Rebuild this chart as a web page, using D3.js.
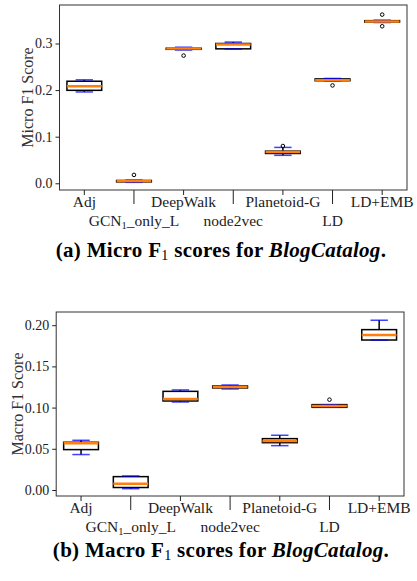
<!DOCTYPE html>
<html>
<head>
<meta charset="utf-8">
<script src="https://cdn.jsdelivr.net/npm/d3@7/dist/d3.min.js"></script>
<style>
  body { margin: 0; background: #fff; }
  svg { display: block; }
  .tick text { font-family: "Liberation Serif", serif; fill: #222; }
</style>
</head>
<body>
<script>
var methods = ["Adj", "GCN1_only_L", "DeepWalk", "node2vec", "Planetoid-G", "LD", "LD+EMB"];

// micro F1 (BlogCatalog)
var microLo     = [0.196, 0.002, 0.286, 0.288, 0.060, 0.219, 0.345];
var microQ1     = [0.1995, 0.003, 0.2875, 0.2885, 0.064, 0.220, 0.346];
var microMed    = [0.2085, 0.005, 0.289, 0.298, 0.067, 0.221, 0.347];
var microQ3     = [0.219, 0.006, 0.290, 0.300, 0.069, 0.224, 0.349];
var microHi     = [0.222, 0.007, 0.292, 0.303, 0.077, 0.225, 0.350];
var microFliers = [[], [0.018], [0.274], [], [0.080], [0.210], [0.362, 0.337]];
var microTicks  = [0.0, 0.1, 0.2, 0.3];

// macro F1 (BlogCatalog)
var macroLo     = [0.043, 0.0016, 0.1068, 0.1226, 0.0538, 0.1005, 0.182];
var macroQ1     = [0.049, 0.003, 0.108, 0.1238, 0.0574, 0.1003, 0.182];
var macroMed    = [0.0566, 0.0077, 0.1104, 0.125, 0.0595, 0.102, 0.1881];
var macroQ3     = [0.0579, 0.0162, 0.1197, 0.1262, 0.0623, 0.1036, 0.1946];
var macroHi     = [0.0603, 0.017, 0.1214, 0.1274, 0.0664, 0.1035, 0.206];
var macroFliers = [[], [], [], [], [], [0.1096], []];
var macroTicks  = [0.00, 0.05, 0.10, 0.15, 0.20];

var svg = d3.select("body").append("svg").attr("width", 417).attr("height", 581);

function makePanel(p) {
  var x = d3.scaleLinear().domain([0.5, 7.5]).range([p.left, p.right]);
  var y = d3.scaleLinear().domain(p.ydom).range([p.bottom, p.top]);
  var g = svg.append("g");

  // frame
  g.append("rect")
    .attr("x", p.left).attr("y", p.top)
    .attr("width", p.right - p.left).attr("height", p.bottom - p.top)
    .attr("fill", "none").attr("stroke", "#333").attr("stroke-width", 1);

  // y axis
  var ya = g.append("g").attr("class", "tick")
    .attr("transform", "translate(" + p.left + ",0)")
    .call(d3.axisLeft(y).tickValues(p.ticks).tickFormat(d3.format(p.fmt)).tickSize(4).tickPadding(3));
  ya.select(".domain").remove();
  ya.selectAll("line").attr("stroke", "#222");
  ya.selectAll("text").attr("font-size", 14);

  // x axis, staggered labels
  var xa = g.append("g").attr("transform", "translate(0," + p.bottom + ")");
  methods.forEach(function(m, i) {
    var cx = x(i + 1);
    var odd = i % 2 == 1;
    xa.append("line").attr("x1", cx).attr("x2", cx).attr("y1", 0).attr("y2", odd ? 14 : 5)
      .attr("stroke", "#222").attr("stroke-width", 1);
    var t = xa.append("text").attr("x", cx).attr("y", odd ? 36 : 17)
      .attr("text-anchor", "middle")
      .attr("font-family", "Liberation Serif, serif").attr("font-size", 15.5).attr("fill", "#222");
    if (m == "GCN1_only_L") {
      t.append("tspan").text("GCN");
      t.append("tspan").text("1").attr("font-size", 10.5).attr("dy", 3);
      t.append("tspan").text("_only_L").attr("dy", -3);
    } else {
      t.text(m);
    }
  });

  // y label
  g.append("text")
    .attr("transform", "translate(" + p.labelX + "," + (p.top + p.bottom) / 2 + ") rotate(-90)")
    .attr("text-anchor", "middle").attr("dy", "0.35em")
    .attr("font-family", "Liberation Serif, serif").attr("font-size", 16).attr("fill", "#333")
    .text(p.label);

  var bw = 0.7, cw = 0.35;
  methods.forEach(function(m, i) {
    var c = i + 1;
    var bg = g.append("g");
    // whiskers
    bg.append("line").attr("x1", x(c)).attr("x2", x(c)).attr("y1", y(p.lo[i])).attr("y2", y(p.q1[i]))
      .attr("stroke", "#000").attr("stroke-width", 1.5);
    bg.append("line").attr("x1", x(c)).attr("x2", x(c)).attr("y1", y(p.q3[i])).attr("y2", y(p.hi[i]))
      .attr("stroke", "#000").attr("stroke-width", 1.5);
    // box
    bg.append("rect")
      .attr("x", x(c - bw / 2)).attr("width", x(c + bw / 2) - x(c - bw / 2))
      .attr("y", y(p.q3[i])).attr("height", Math.max(y(p.q1[i]) - y(p.q3[i]), 0.5))
      .attr("fill", "#fff").attr("stroke", "#000").attr("stroke-width", 1.5);
    // caps
    [p.lo[i], p.hi[i]].forEach(function(v) {
      bg.append("line").attr("x1", x(c - cw / 2)).attr("x2", x(c + cw / 2))
        .attr("y1", y(v)).attr("y2", y(v))
        .attr("stroke", "#0000ff").attr("stroke-opacity", 0.75).attr("stroke-width", 1.5);
    });
    // median
    bg.append("line").attr("x1", x(c - bw / 2)).attr("x2", x(c + bw / 2))
      .attr("y1", y(p.med[i])).attr("y2", y(p.med[i]))
      .attr("stroke", "#ff7f0e").attr("stroke-width", 2.5);
    // fliers
    p.fliers[i].forEach(function(v) {
      bg.append("circle").attr("cx", x(c)).attr("cy", y(v)).attr("r", 1.8)
        .attr("fill", "none").attr("stroke", "#000").attr("stroke-width", 1);
    });
  });

  // caption
  var cap = svg.append("text").attr("x", 221).attr("y", p.capY).attr("text-anchor", "middle")
    .attr("font-family", "Liberation Serif, serif").attr("font-size", 21).attr("font-weight", "bold")
    .attr("letter-spacing", 0.3).attr("fill", "#000");
  cap.append("tspan").text(p.capA);
  cap.append("tspan").text("1").attr("font-size", 14).attr("font-weight", "normal").attr("dy", 3);
  cap.append("tspan").text(" scores for ").attr("dy", -3);
  cap.append("tspan").text("BlogCatalog").attr("font-style", "italic");
  cap.append("tspan").text(".");
}

makePanel({
  left: 59.5, right: 407, top: 5, bottom: 190, ydom: [-0.0144, 0.3826],
  ticks: microTicks, fmt: ".1f", label: "Micro F1 Score", labelX: 27,
  lo: microLo, q1: microQ1, med: microMed, q3: microQ3, hi: microHi, fliers: microFliers,
  capY: 257, capA: "(a) Micro F"
});

makePanel({
  left: 56.2, right: 404, top: 312, bottom: 496, ydom: [-0.0073, 0.216],
  ticks: macroTicks, fmt: ".2f", label: "Macro F1 Score", labelX: 17,
  lo: macroLo, q1: macroQ1, med: macroMed, q3: macroQ3, hi: macroHi, fliers: macroFliers,
  capY: 557, capA: "(b) Macro F"
});
</script>
</body>
</html>
